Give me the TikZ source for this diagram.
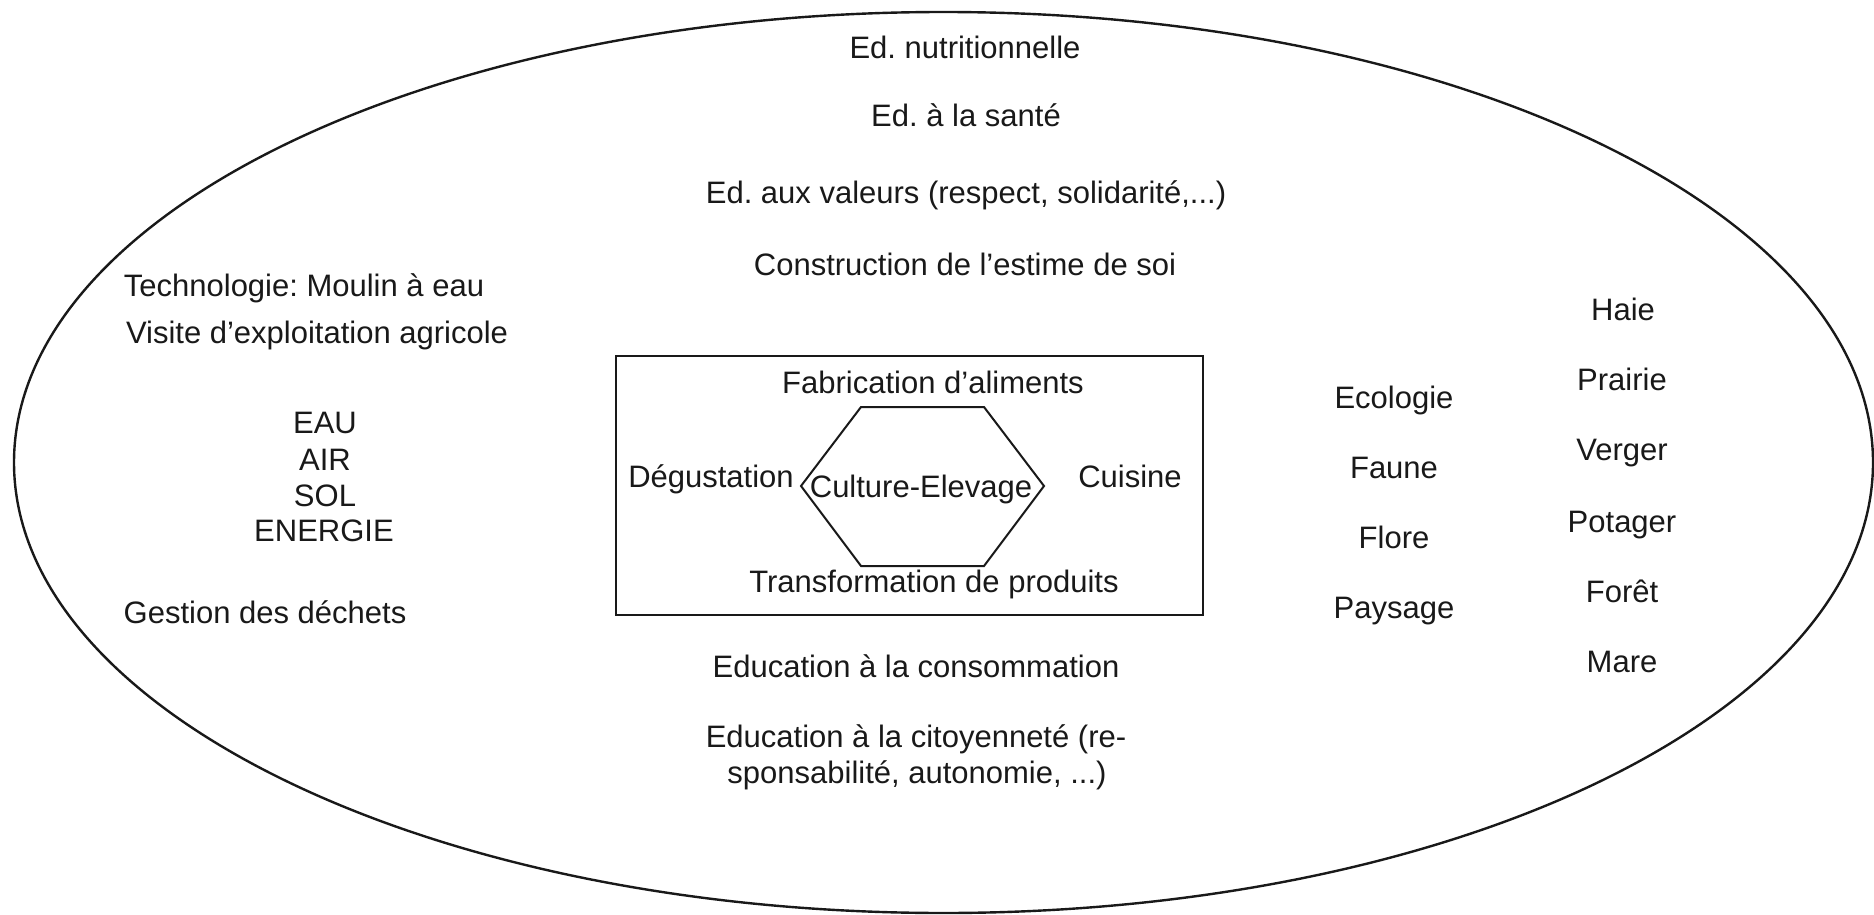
\documentclass[tikz,border=0pt]{standalone}
\usepackage{fontspec}
\setmainfont{Liberation Sans}
\frenchspacing
\begin{document}
\begin{tikzpicture}[x=1pt,y=-1pt]
\tikzset{
  lbl/.style={anchor=base, inner sep=0pt, text=black!90, font=\fontsize{31}{37}\selectfont},
  outline/.style={draw=black!90, line width=2.4pt},
  frame/.style={draw=black!90, line width=2pt},
}
\useasboundingbox (0,0) rectangle (1874,915);
\fill[white] (0,0) rectangle (1874,915);
% big ellipse
\draw[outline] (943.5,462.5) ellipse [x radius=929.5, y radius=450.5];
% top texts
\node[lbl] (nutri)   at (965,59)  {Ed. nutritionnelle};
\node[lbl] (sante)   at (966,127) {Ed. à la santé};
\node[lbl] (valeurs) at (966,203) {Ed. aux valeurs (respect, solidarité,...)};
\node[lbl] (estime)  at (965,275) {Construction de l’estime de soi};
% left texts
\node[lbl] (techno)  at (304,296) {Technologie: Moulin à eau};
\node[lbl] (visite)  at (317,343) {Visite d’exploitation agricole};
\node[lbl] (eau)     at (325,433) {EAU};
\node[lbl] (air)     at (325,470) {AIR};
\node[lbl] (sol)     at (325,506) {SOL};
\node[lbl] (energie) at (324,541) {ENERGIE};
\node[lbl] (dechets) at (265,623) {Gestion des déchets};
% central box
\draw[frame] (616,356) rectangle (1203,615);
\draw[frame, line join=miter] (861,407) -- (984,407) -- (1044,486) -- (984,566) -- (861,566) -- (801,486) -- cycle;
\node[lbl] (fabric)  at (933,393) {Fabrication d’aliments};
\node[lbl] (degus)   at (711,487) {Dégustation};
\node[lbl] (culture) at (921,497) {Culture-Elevage};
\node[lbl] (cuisine) at (1130,487) {Cuisine};
\node[lbl] (transf)  at (934,592) {Transformation de produits};
% bottom texts
\node[lbl] (conso)   at (916,677) {Education à la consommation};
\node[lbl] (cit1)    at (916,747) {Education à la citoyenneté (re-};
\node[lbl] (cit2)    at (917,783) {sponsabilité, autonomie, ...)};
% right texts
\node[lbl] (ecologie) at (1394,408) {Ecologie};
\node[lbl] (faune)    at (1394,478) {Faune};
\node[lbl] (flore)    at (1394,548) {Flore};
\node[lbl] (paysage)  at (1394,618) {Paysage};
\node[lbl] (haie)     at (1623,320) {Haie};
\node[lbl] (prairie)  at (1622,390) {Prairie};
\node[lbl] (verger)   at (1622,460) {Verger};
\node[lbl] (potager)  at (1622,532) {Potager};
\node[lbl] (foret)    at (1622,602) {Forêt};
\node[lbl] (mare)     at (1622,672) {Mare};
\end{tikzpicture}
\end{document}
